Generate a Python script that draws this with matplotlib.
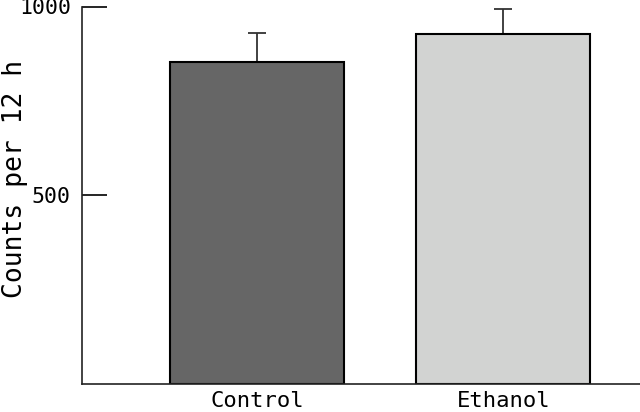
import numpy as np
import matplotlib
matplotlib.use("Agg")
import matplotlib.pyplot as plt

# values
groups = ["Control", "Ethanol"]
counts = [853, 927]
errors = [76, 66]
colours = ["#666666", "#d2d3d2"]
yticks = [500, 1000]

plt.rcParams['font.family'] = ['DejaVu Sans Mono']

fig = plt.figure(figsize=(6.4, 4.12), dpi=100)
ax = fig.add_axes([82 / 640, 28 / 412, 1 - 82 / 640, (384 - 6.5) / 412])

x = np.arange(len(groups))
ax.bar(x, counts, width=0.706, color=colours, edgecolor="black", linewidth=1.5,
       zorder=2)
ax.errorbar(x, counts, yerr=[np.zeros(len(errors)), errors], fmt="none",
            ecolor="#333333", elinewidth=1.3, capsize=6.75, capthick=1.3,
            zorder=1)

ax.set_xlim(-0.71, 1.554)
ax.set_ylim(0, 1000)
ax.set_yticks(yticks)
ax.set_xticks(x)
ax.set_xticklabels(groups, fontsize=16)
ax.tick_params(axis="y", direction="in", length=18, width=1.2, labelsize=15.5,
               pad=8, colors="black")
ax.tick_params(axis="x", length=0, pad=5)
fig.text(15 / 640, 1 - 179 / 412, "Counts per 12 h", fontsize=19,
         rotation=90, ha="center", va="center")

for side in ["top", "right"]:
    ax.spines[side].set_visible(False)
for side in ["left", "bottom"]:
    ax.spines[side].set_linewidth(1.2)
    ax.spines[side].set_color("#222222")

fig.savefig("out.png", dpi=100)
